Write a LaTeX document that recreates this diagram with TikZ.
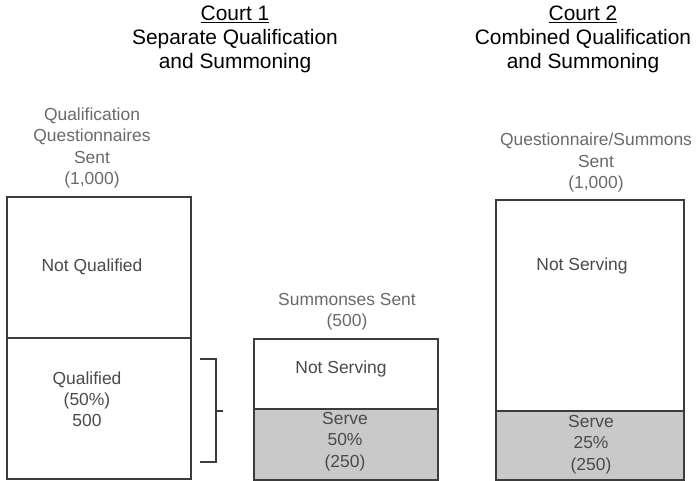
\documentclass[tikz,border=0pt]{standalone}
\usepackage{fontspec}
\setmainfont{Liberation Sans}
\definecolor{boxline}{HTML}{3C3C3C}
\definecolor{boxtext}{HTML}{4A4A4A}
\definecolor{labeltext}{HTML}{6A6A6A}
\definecolor{servefill}{HTML}{C9C9C9}
\tikzset{
  title/.style={align=center, text=black, font=\fontsize{21}{24}\selectfont, inner sep=0pt},
  lbl/.style={align=center, text=labeltext, font=\fontsize{17.5}{21.3}\selectfont, inner sep=0pt},
  intext/.style={align=center, text=boxtext, font=\fontsize{17.5}{21.3}\selectfont, inner sep=0pt},
  part/.style={draw=boxline, line width=1.5bp, rectangle, inner sep=0pt},
  serve/.style={part, fill=servefill},
  brace/.style={draw=boxline, line width=1.5bp}
}
\begin{document}
\begin{tikzpicture}[x=1bp,y=-1bp]
\useasboundingbox[fill=white] (0,0) rectangle (696,481);
% titles
\node[title] (t1) at (235,39) {\underline{Court 1}\\Separate Qualification\\and Summoning};
\node[title] (t2) at (583,39) {\underline{Court 2}\\Combined Qualification\\and Summoning};
% labels above boxes
\node[lbl] (l1) at (92,148) {Qualification\\Questionnaires\\Sent\\(1,000)};
\node[lbl] (l2) at (347,311.5) {Summonses Sent\\(500)};
\node[lbl] (l3) at (596,162.5) {Questionnaire/Summons\\Sent\\(1,000)};
% court 1, questionnaire box
\node[part, minimum width=184bp, minimum height=141bp] (nq) at (99,267.5) {};
\node[part, minimum width=184bp, minimum height=141bp] (q) at (99,408.5) {};
\node[intext] (nqt) at (92,267) {Not Qualified};
\node[intext] (qt) at (87,399.5) {Qualified\\(50\%)\\500};
% court 1, summons box
\node[part, minimum width=184bp, minimum height=70bp] (ns1) at (346,374) {};
\node[serve, minimum width=184bp, minimum height=71bp] (s1) at (346,444.5) {};
\node[intext] (ns1t) at (341,369) {Not Serving};
\node[intext] (s1t) at (345,441.5) {Serve\\50\%\\(250)};
% court 2 box
\node[part, minimum width=188bp, minimum height=211bp] (ns2) at (590,305.5) {};
\node[serve, minimum width=188bp, minimum height=69bp] (s2) at (590,445.5) {};
\node[intext] (ns2t) at (582,266) {Not Serving};
\node[intext] (s2t) at (591,444.5) {Serve\\25\%\\(250)};
% bracket
\coordinate (ba) at (200,359);
\coordinate (bb) at (216,359);
\coordinate (bc) at (216,462);
\coordinate (bd) at (200,462);
\coordinate (bm) at (216,411);
\coordinate (bt) at (223,411);
\draw[brace] (ba) -- (bb) -- (bc) -- (bd);
\draw[brace] (bm) -- (bt);
\end{tikzpicture}
\end{document}
